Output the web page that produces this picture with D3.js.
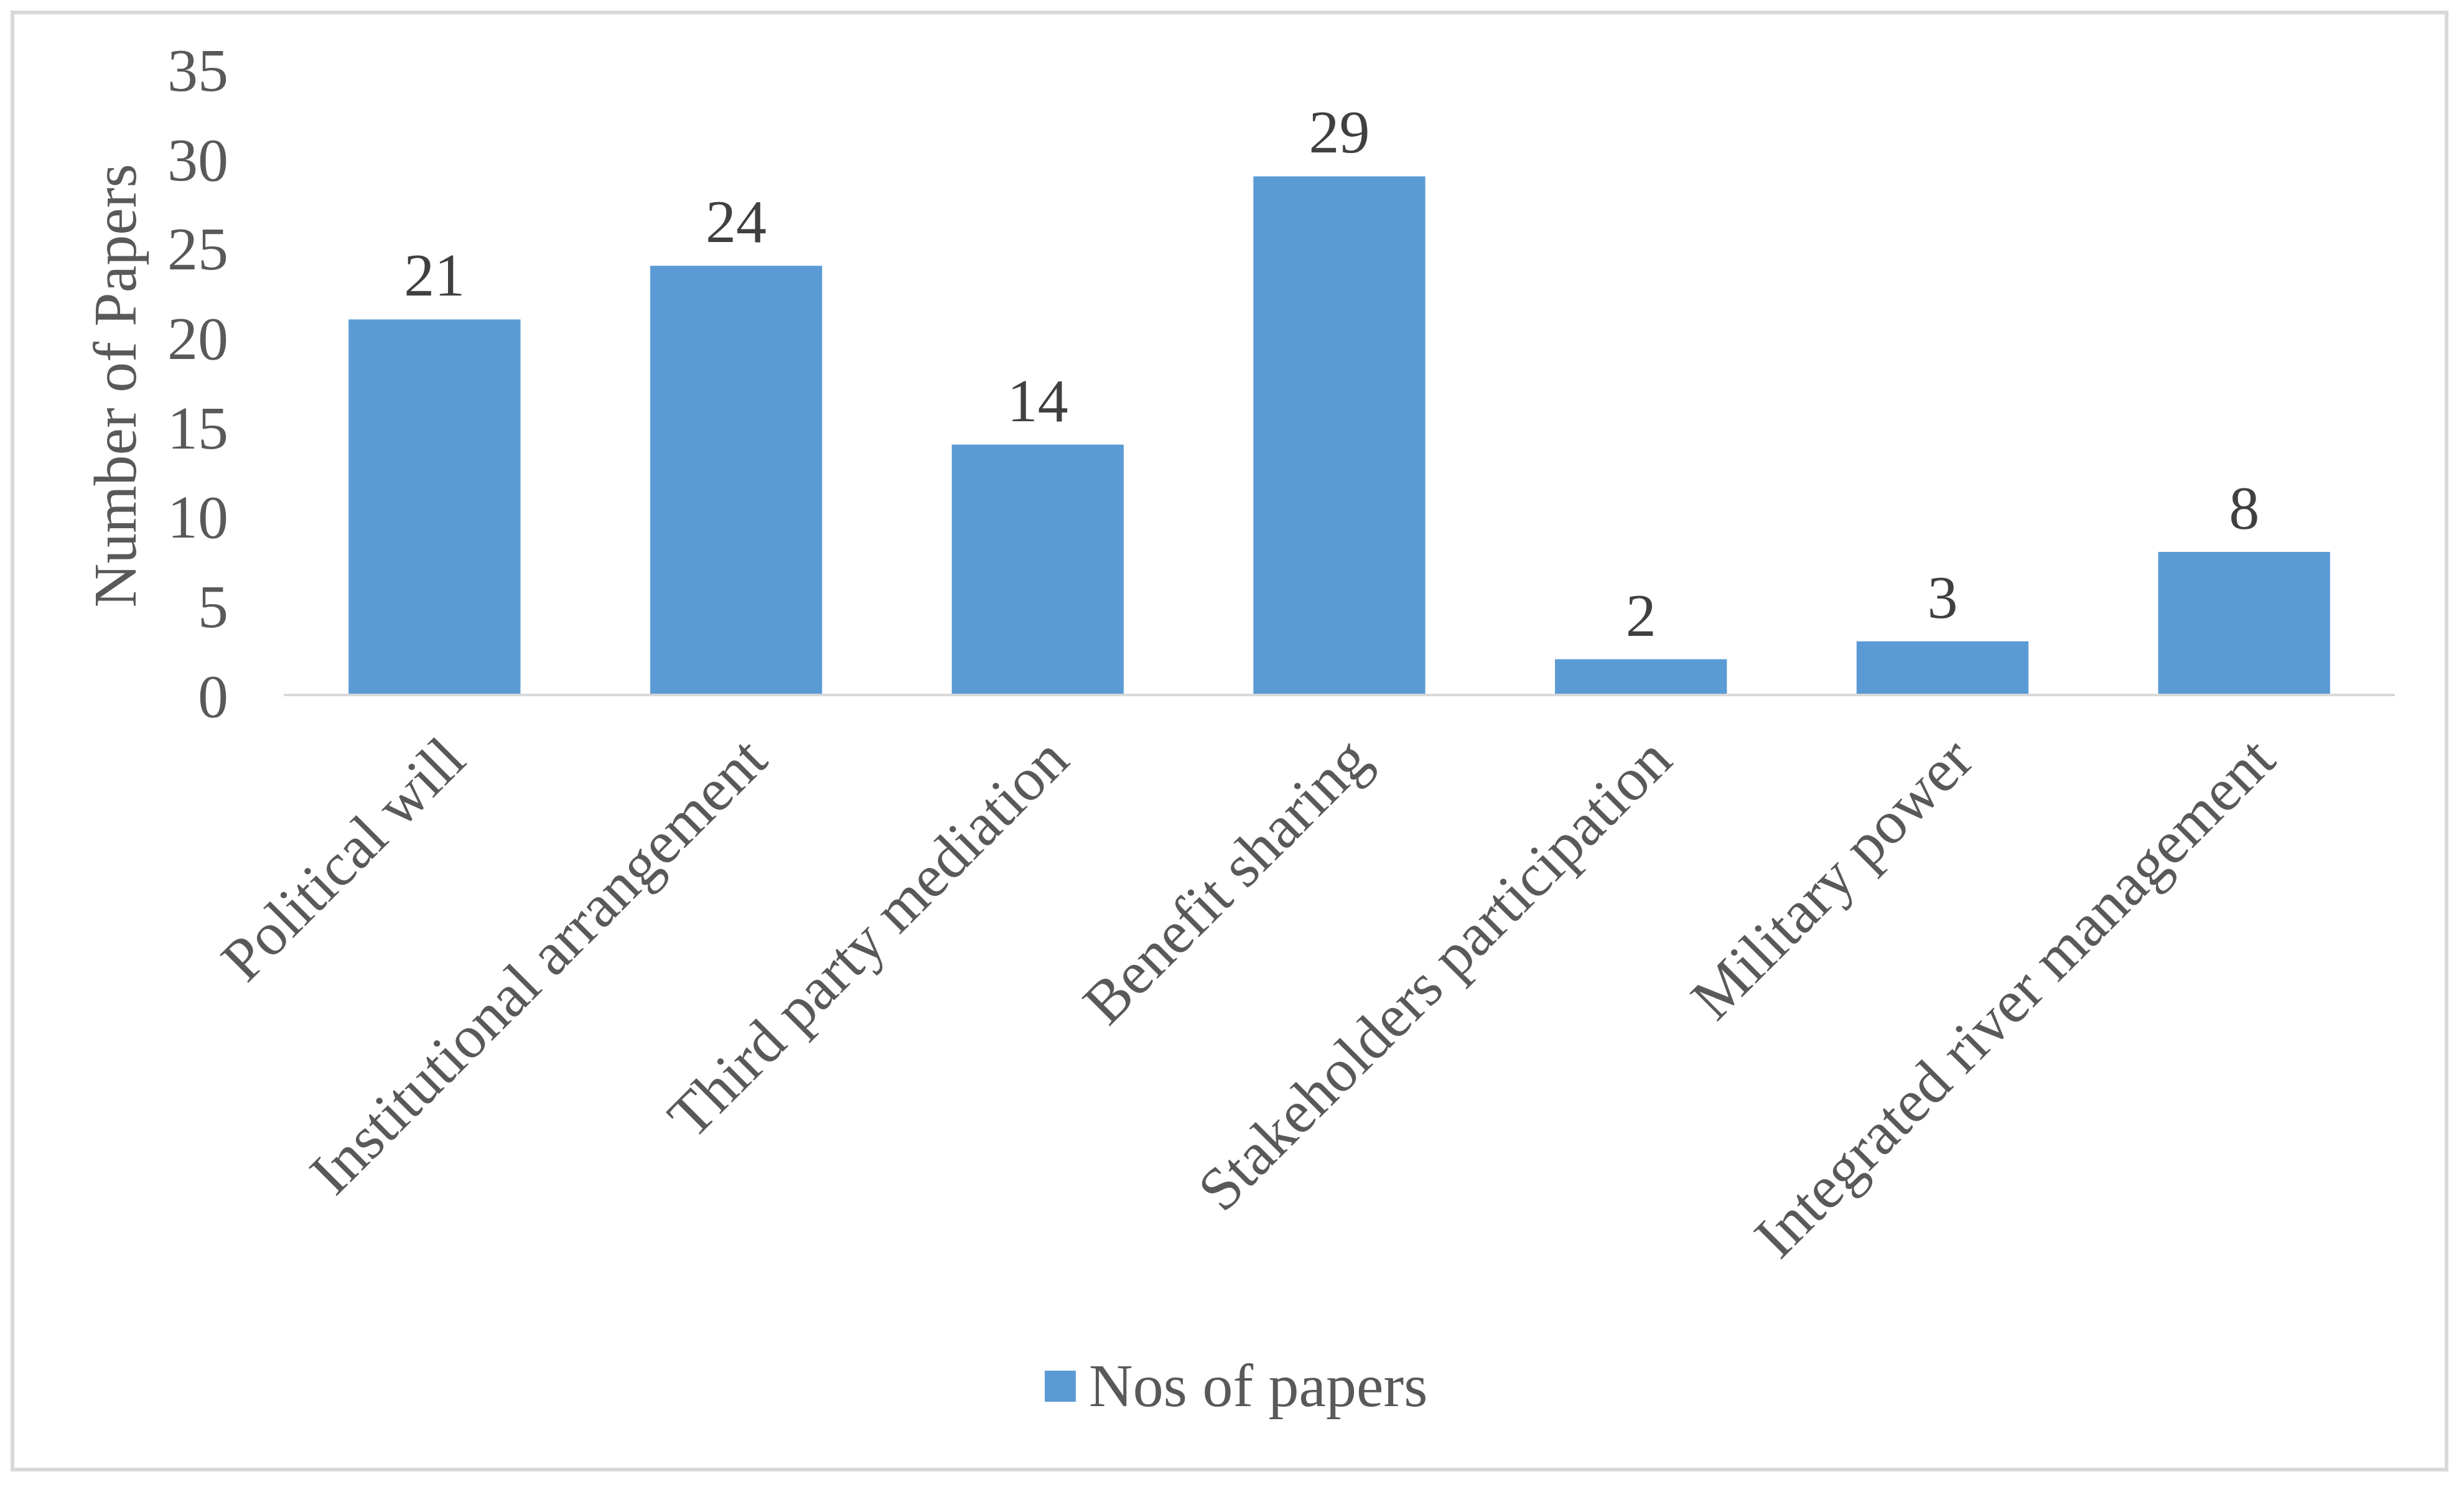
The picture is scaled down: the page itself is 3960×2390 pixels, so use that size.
<!DOCTYPE html>
<html><head><meta charset="utf-8">
<script src="https://cdn.jsdelivr.net/npm/d3@7"></script>
<style>body{margin:0;background:#fff}</style></head>
<body><svg id="c" width="3960" height="2390"></svg>
<script>
const categories = ["Political will","Institutional arrangement","Third party mediation","Benefit sharing","Stakeholders participation","Military power","Integrated river management"];
const values = [21,24,14,29,2,3,8];
const yTicks = [0,5,10,15,20,25,30,35];
const seriesName = "Nos of papers";
const yTitle = "Number of Papers";

const svg = d3.select("#c");
const font = "'Liberation Serif','Times New Roman',serif";
const fs = 98;
svg.append("rect").attr("x",20).attr("y",20).attr("width",3912).attr("height",2342)
  .attr("fill","#fff").attr("stroke","#d9d9d9").attr("stroke-width",6);

const x = d3.scaleBand().domain(categories).range([456,3849]).paddingInner(0.43).paddingOuter(0.215);
const y = d3.scaleLinear().domain([0,35]).range([1117,111]);

const ya = svg.append("g").attr("transform","translate(367,0)")
  .call(d3.axisLeft(y).tickValues(yTicks).tickSize(0).tickPadding(0));
ya.select(".domain").remove();
ya.selectAll("text").attr("font-family",font).attr("font-size",fs).attr("fill","#595959").attr("dy","0.35em");

svg.selectAll(".bar").data(values).join("rect")
  .attr("x",(d,i)=>x(categories[i])).attr("width",x.bandwidth())
  .attr("y",d=>y(d)).attr("height",d=>y(0)-y(d)).attr("fill","#5b9bd5");

svg.append("line").attr("x1",456).attr("x2",3849).attr("y1",y(0)).attr("y2",y(0))
  .attr("stroke","#d9d9d9").attr("stroke-width",4);

svg.selectAll(".lbl").data(values).join("text")
  .attr("x",(d,i)=>x(categories[i])+x.bandwidth()/2).attr("y",d=>y(d)-38)
  .attr("text-anchor","middle").attr("font-family",font).attr("font-size",fs).attr("fill","#404040")
  .text(d=>d);

const xa = svg.append("g").attr("transform",`translate(0,${y(0)})`)
  .call(d3.axisBottom(x).tickSize(0).tickPadding(0));
xa.select(".domain").remove();
xa.selectAll("text").attr("font-family",font).attr("font-size",fs).attr("fill","#595959")
  .attr("text-anchor","end").attr("dy","0.35em")
  .attr("transform","translate(30,85) rotate(-45)");

svg.append("text").attr("transform","translate(218,620) rotate(-90)")
  .attr("text-anchor","middle").attr("font-family",font).attr("font-size",fs).attr("fill","#595959").text(yTitle);

svg.append("rect").attr("x",1679).attr("y",2203).attr("width",50).attr("height",50).attr("fill","#5b9bd5");
svg.append("text").attr("x",1750).attr("y",2260).attr("font-family",font).attr("font-size",fs).attr("fill","#595959").text(seriesName);
</script></body></html>
